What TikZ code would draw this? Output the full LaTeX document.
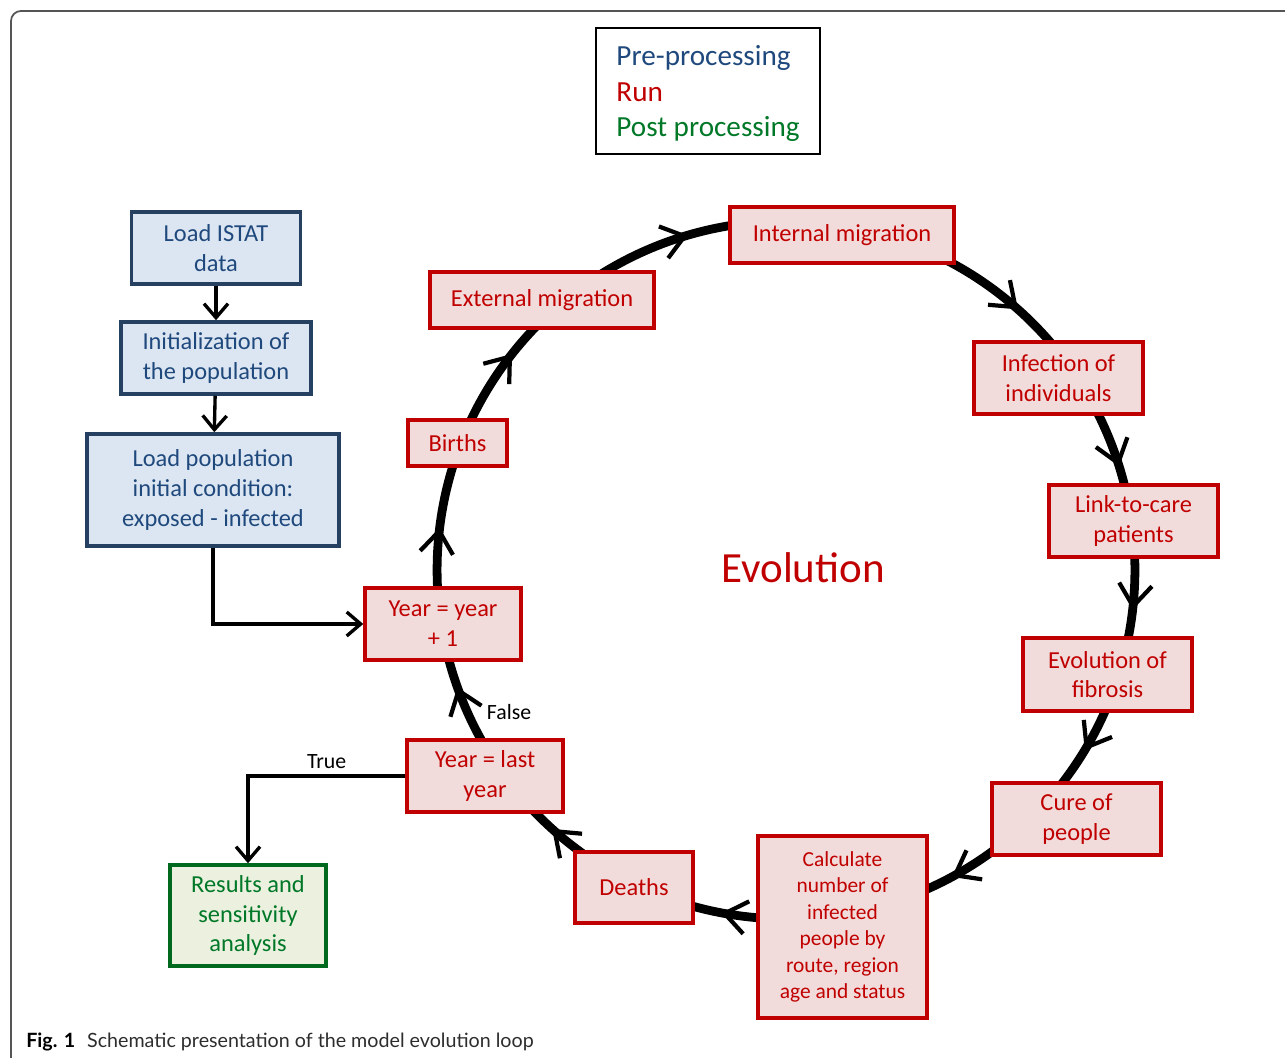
\documentclass[tikz,border=0pt]{standalone}
\usepackage{fontspec}
\setmainfont{Carlito}
\newfontfamily\capfont{Lato}
\usetikzlibrary{arrows.meta,calc,decorations.markings,backgrounds}

\definecolor{pretext}{HTML}{1F497D}
\definecolor{preline}{HTML}{254061}
\definecolor{prefill}{HTML}{DCE6F2}
\definecolor{runred}{HTML}{C00000}
\definecolor{runfill}{HTML}{F2DCDB}
\definecolor{posttext}{RGB}{0,120,40}
\definecolor{postline}{RGB}{0,105,30}
\definecolor{postfill}{HTML}{EBF1DE}
\definecolor{framegray}{RGB}{85,85,85}
\definecolor{capgray}{RGB}{45,45,45}

\def\px{0.02cm}
\def\rad{6.98cm}

\tikzset{
  box/.style={draw, line width=2pt, align=center, inner sep=1pt,
    font=\fontsize{13.9}{16.9}\selectfont},
  wh/.style 2 args={minimum width=#1*\px, minimum height=#2*\px},
  prebox/.style={box, draw=preline, fill=prefill, text=pretext},
  runbox/.style={box, draw=runred, fill=runfill, text=runred},
  postbox/.style={box, draw=postline, fill=postfill, text=posttext},
  lbl/.style={font=\fontsize{12.4}{15}\selectfont},
  arrowline/.style={line width=1.9pt, -{Straight Barb[length=0.28cm,width=0.48cm]}},
  cyclearc/.style={line width=5pt, postaction={decorate},
    decoration={markings, mark=at position #1 with
      {\arrow[line width=2.4pt]{Straight Barb[length=0.44cm,width=0.66cm]}}}},
}

\begin{document}
\begin{tikzpicture}[x=0.02cm, y=0.02cm]
  \useasboundingbox (0,0) rectangle (1285,1058);
  \draw[framegray, line width=1pt, rounded corners=0.2cm] (1300,1047) -- (11,1047) -- (11,-20);

  % legend
  \node[draw, line width=1.5pt, wh={224}{126}, align=left, inner sep=0pt, text depth=0pt,
    font=\fontsize{16.6}{20.2}\selectfont] (legend) at (708,967)
    {\textcolor{pretext}{Pre-processing}\\\textcolor{runred}{Run}\\\textcolor{posttext}{Post processing}};

  % pre-processing
  \node[prebox, wh={169}{72}] (istat) at (216,810) {Load ISTAT\\data};
  \node[prebox, wh={190}{72}] (init) at (216,700) {Initialization of\\the population};
  \node[prebox, wh={252}{112}] (loadpop) at (213,568) {Load population\\initial condition:\\exposed - infected};

  % run loop
  \coordinate (ctr) at (786,488);
  \node[runbox, wh={156}{72}] (yy) at (443,434) {Year = year\\+ 1};
  \node[runbox, wh={99}{46}] (births) at (457.5,615) {Births};
  \node[runbox, wh={224}{56}] (extmig) at (542,758) {External migration};
  \node[runbox, wh={224}{56}] (intmig) at (842,823) {Internal migration};
  \node[runbox, wh={169}{72}] (infect) at (1058.5,680) {Infection of\\individuals};
  \node[runbox, wh={169}{72}] (link) at (1133.5,537) {Link-to-care\\patients};
  \node[runbox, wh={169}{73}] (fibro) at (1107.5,383.5) {Evolution of\\fibrosis};
  \node[runbox, wh={169}{72}] (cure) at (1076.5,239) {Cure of\\people};
  \node[runbox, wh={169}{182}, font=\fontsize{12.2}{15.1}\selectfont] (calc) at (842.5,131)
    {Calculate\\number of\\infected\\people by\\route, region\\age and status};
  \node[runbox, wh={118}{71}] (deaths) at (634,170.5) {Deaths};
  \node[runbox, wh={156}{72}] (lastyear) at (485,282) {Year = last\\year};

  \node[text=runred, font=\fontsize{24.5}{29}\selectfont] (evo) at (803,490) {Evolution};
  \node[lbl] (falselbl) at (509,346) {False};

  % post processing
  \node[postbox, wh={156}{101}] (results) at (248,142.5) {Results and\\sensitivity\\analysis};

  \draw[arrowline] (istat) -- (init);
  \draw[arrowline] (init) -- (loadpop);
  \draw[arrowline] (loadpop) |- (yy);
  \draw[arrowline] (lastyear) -| node[pos=0.25, above, lbl] {True} (results);

  \begin{scope}[on background layer]
    \foreach \a/\b/\m in {yy/births/0.53, births/extmig/0.64, extmig/intmig/0.5,
                          intmig/infect/0.71, infect/link/0.66, link/fibro/0.56,
                          fibro/cure/0.58, cure/calc/0.52, calc/deaths/0.57,
                          deaths/lastyear/0.55, lastyear/yy/0.58}
      \draw[cyclearc=\m] let \p1=($(\a)-(ctr)$), \p2=($(\b)-(ctr)$),
        \n1={atan2(\y1,\x1)}, \n2={atan2(\y2,\x2)},
        \n3={\n1-mod(\n1-\n2+720,360)} in
        ($(ctr)+(\n1:\rad)$) arc[start angle=\n1, end angle=\n3, radius=\rad];
  \end{scope}

  \node[anchor=base west, inner sep=0pt, text=capgray, font=\capfont\fontsize{11.2}{13}\selectfont]
    (caption) at (26,10) {\textbf{\color{black}Fig. 1}\hspace{0.6em}Schematic presentation of the model evolution loop};
\end{tikzpicture}
\end{document}
